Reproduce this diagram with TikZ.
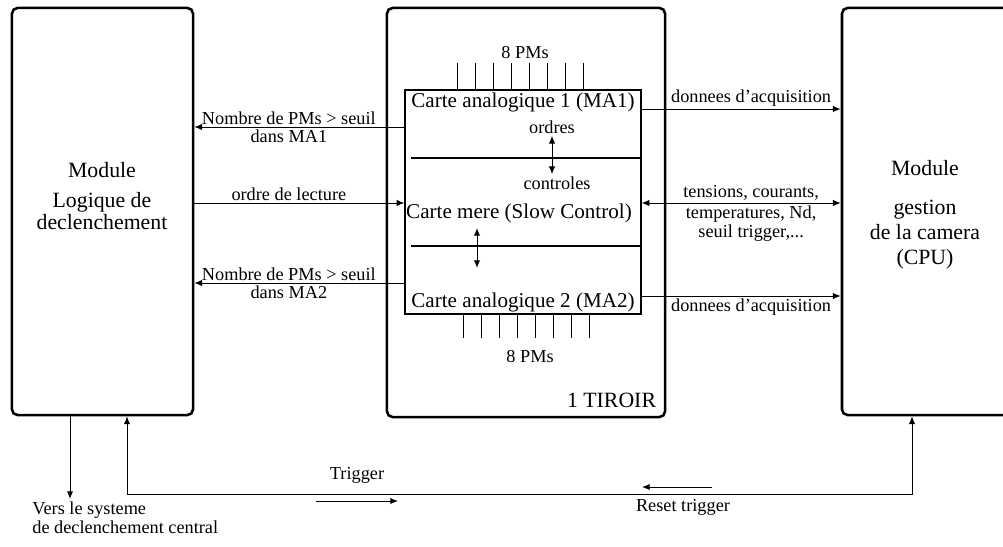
\documentclass[tikz,border=0pt]{standalone}
\usepackage{fontspec}
\setmainfont{Liberation Serif}
\usetikzlibrary{arrows.meta,
                positioning}
\tikzset{module/.style=
   {rectangle,
    draw,
    line width=1.8pt,
    rounded corners=4pt}}
\tikzset{carte/.style = {rectangle, draw, line width=0.8pt}}
\tikzset{arrow/.style = {draw, line width=0.7pt, -{Latex[length=5.5pt,width=4.5pt]}}}
\tikzset{arrows2/.style = {draw, line width=0.7pt,
    {Latex[length=5.5pt,width=4.5pt]}-{Latex[length=5.5pt,width=4.5pt]}}}
\tikzset{lbl/.style = {font=\fontsize{13}{14}\selectfont, align=center, inner sep=1.5pt}}
\tikzset{big/.style = {font=\fontsize{15}{17}\selectfont, inner sep=1pt}}
\tikzset{title/.style = {font=\fontsize{15.5}{17.8}\selectfont, align=center}}

\begin{document}
\begin{tikzpicture}[x=0.025cm, y=-0.025cm]
    \useasboundingbox (0,0) rectangle (1003,546);
    \clip (0,0) rectangle (1003,546);

    % Blocks
    \node [module, minimum width=4.525cm, minimum height=10.175cm] (logic) at (102.5,211.5) {};
    \node [module, minimum width=6.95cm, minimum height=10.225cm] (tiroir) at (526,212.5) {};
    \node [module, minimum width=4.5cm, minimum height=10.175cm] (cpu) at (932,211.5) {};
    \node [carte, minimum width=5.9cm, minimum height=5.6cm] (cartes) at (523,202) {};

    % Texts
    \node [title] (logictext) at (102,196) {Module\\[4pt]Logique de\\[-2pt]declenchement};
    \node [title] (cputext) at (925,215) {Module\\[10pt]gestion\\de la camera\\(CPU)};
    \node [big] (ma1) at (523,102) {Carte analogique 1 (MA1)};
    \node [lbl] (ordres) at (552,127) {ordres};
    \node [lbl] (controles) at (557,183) {controles};
    \node [big] (mere) at (519,213) {Carte mere (Slow Control)};
    \node [big] (ma2) at (523,302) {Carte analogique 2 (MA2)};
    \node [lbl] (pmhaut) at (525,53) {8 PMs};
    \node [lbl] (pmbas) at (530,357) {8 PMs};
    \node [title, anchor=east] (tiroirtext) at (661,400) {1 TIROIR};

    % Dividers
    \draw [line width=0.8pt] (411,158) -- (cartes.east |- 0,158);
    \draw [line width=0.8pt] (411,246) -- (cartes.east |- 0,246);

    % PMs
    \foreach \x in {457,475,...,583}
        \draw [line width=0.7pt] (\x,63) -- (\x,0 |- cartes.north);
    \foreach \x in {463,481,...,589}
        \draw [line width=0.7pt] (\x,0 |- cartes.south) -- (\x,338);

    % Draw edges
    % Inside the drawer
    \path [arrows2] (ordres.south) -- (ordres.south |- controles.north);
    \coordinate (s1) at (477,228);
    \coordinate (s2) at (477,268);
    \path [arrows2] (s1) -- (s2);

    % Left side
    \path [arrow]
    (cartes.west |- 0,127)
    -- node [lbl, pos=0.55, above] {Nombre de PMs > seuil}
       node [lbl, pos=0.55, below] {dans MA1}
    (logic.east |- 0,127);

    \path [arrow]
    (logic.east |- 0,203)
    -- node [lbl, pos=0.45, above] {ordre de lecture}
    (cartes.west |- 0,203);

    \path [arrow]
    (cartes.west |- 0,283)
    -- node [lbl, pos=0.55, above] {Nombre de PMs > seuil}
       node [lbl, pos=0.55, below] {dans MA2}
    (logic.east |- 0,283);

    % Right side
    \path [arrow]
    (cartes.east |- 0,109)
    -- node [lbl, pos=0.55, above] {donnees d'acquisition}
    (cpu.west |- 0,109);

    \path [arrows2]
    (cartes.east |- 0,203)
    -- node [lbl, pos=0.55, above] {tensions, courants,}
       node [lbl, pos=0.55, below] {temperatures, Nd,\\seuil trigger,...}
    (cpu.west |- 0,203);

    \path [arrow]
    (cartes.east |- 0,296)
    -- node [lbl, pos=0.55, below] {donnees d'acquisition}
    (cpu.west |- 0,296);

    % Bottom
    \node [lbl, align=left, anchor=north west] (vers) at (30,499) {Vers le systeme\\de declenchement central};
    \path [arrow] (logic.south -| 70,0) -- (vers.north -| 70,0);

    \path [arrows2] (logic.south -| 127,0) -- ++(0,78) -| (cpu.south -| 912,0);

    \node [lbl] (trig) at (357,475) {Trigger};
    \coordinate (t1) at (316,501);
    \coordinate (t2) at (398,501);
    \path [arrow] (t1) -- (t2);

    \node [lbl] (reset) at (683,507) {Reset trigger};
    \coordinate (r1) at (712,487);
    \coordinate (r2) at (642,487);
    \path [arrow] (r1) -- (r2);

\end{tikzpicture}
\end{document}
